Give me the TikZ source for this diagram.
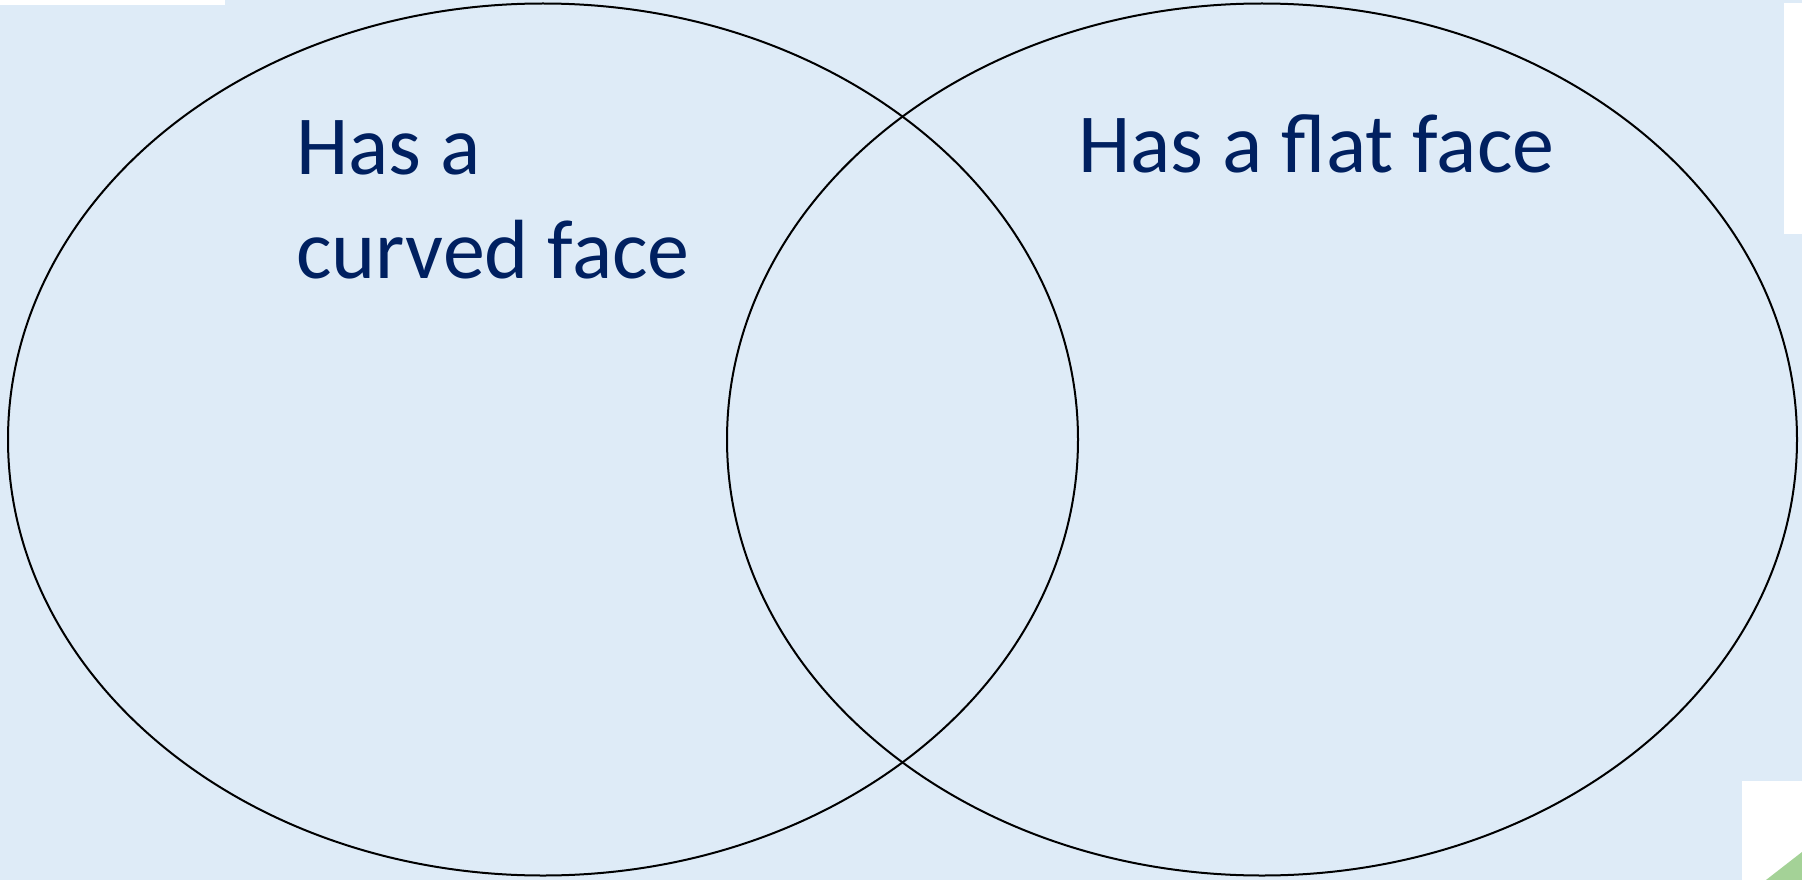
\documentclass[tikz,border=0pt]{standalone}
\usepackage{fontspec}
\setmainfont{Carlito}
\usetikzlibrary{shapes.geometric}
\definecolor{vnback}{HTML}{DEEBF7}
\definecolor{vnink}{HTML}{002060}
\definecolor{vngreen}{HTML}{7DBF6A}

\begin{document}
\begin{tikzpicture}[
  x=1pt, y=-1pt,
  set/.style={draw=black, line width=2pt, ellipse, minimum width=1070pt,
    minimum height=872pt, inner sep=0pt},
  label/.style={anchor=base west, inner sep=0pt, text=vnink,
    font=\fontsize{84}{103}\selectfont},
  ]
  \useasboundingbox (0,0) rectangle (1802,880);
  \fill[vnback] (0,0) rectangle (1802,880);
  % leftovers of the neighbouring slides
  \fill[white] (0,0) rectangle (225,5);
  \fill[white] (1784,3) rectangle (1802,234);
  \fill[white] (1742,781) rectangle (1802,880);
  \fill[vngreen!70] (1766,880) -- (1802,852) -- (1802,880) -- cycle;
  \node[set] (curved) at (543,439.5) {};
  \node[set] (flat) at (1262,439.5) {};
  \node[label] (hasa) at (296,175) {Has a};
  \node[label] (curvedface) at (296,278) {curved face};
  \node[label] (flatface) at (1078,172) {Has a flat face};
\end{tikzpicture}
\end{document}
